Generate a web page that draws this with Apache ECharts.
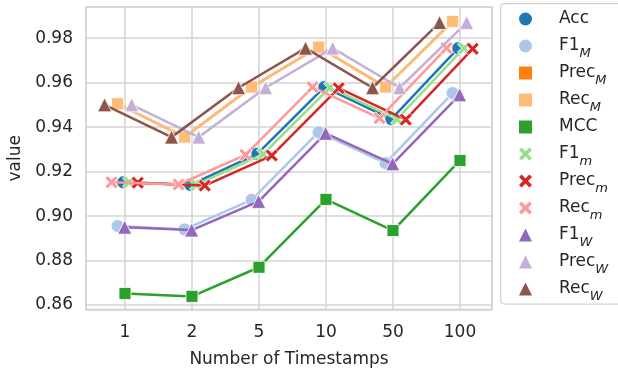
<!DOCTYPE html>
<html>
<head>
<meta charset="utf-8">
<script src="https://cdn.jsdelivr.net/npm/echarts@6/dist/echarts.min.js"></script>
<style>html,body{margin:0;padding:0;background:#fff;}#c{width:618px;height:370px;}</style>
</head>
<body>
<div id="c"></div>
<script>
// ---- data ----
const categories = ['1', '2', '5', '10', '50', '100'];
const seriesNames = ['Acc', 'F1_M', 'Prec_M', 'Rec_M', 'MCC', 'F1_m', 'Prec_m', 'Rec_m', 'F1_W', 'Prec_W', 'Rec_W'];
const accValues    = [0.9152, 0.9140, 0.9280, 0.9580, 0.9436, 0.9755];
const f1MacroValues   = [0.8955, 0.8940, 0.9073, 0.9377, 0.9238, 0.9553];
const precMacroValues = [0.9505, 0.9355, 0.9580, 0.9760, 0.9580, 0.9875];
const recMacroValues  = [0.9505, 0.9355, 0.9580, 0.9760, 0.9580, 0.9875];
const mccValues    = [0.8652, 0.8639, 0.8770, 0.9075, 0.8935, 0.9250];
const f1MicroValues   = [0.9152, 0.9140, 0.9278, 0.9578, 0.9436, 0.9755];
const precMicroValues = [0.9150, 0.9137, 0.9272, 0.9575, 0.9434, 0.9752];
const recMicroValues  = [0.9152, 0.9142, 0.9275, 0.9580, 0.9440, 0.9755];
const f1WeightedValues   = [0.8950, 0.8937, 0.9066, 0.9372, 0.9235, 0.9545];
const precWeightedValues = [0.9500, 0.9355, 0.9577, 0.9755, 0.9577, 0.9870];
const recWeightedValues  = [0.9500, 0.9355, 0.9577, 0.9755, 0.9577, 0.9870];
const yTickLabels = ['0.86', '0.88', '0.90', '0.92', '0.94', '0.96', '0.98'];

// ---- style (not data) ----
const allValues = [accValues, f1MacroValues, precMacroValues, recMacroValues, mccValues,
  f1MicroValues, precMicroValues, recMicroValues, f1WeightedValues, precWeightedValues, recWeightedValues];
const colors = ['#1f77b4', '#aec7e8', '#ff7f0e', '#ffbb78', '#2ca02c', '#98df8a', '#d62728', '#ff9896', '#9467bd', '#c5b0d5', '#8c564b'];
const X_PATH = 'path://M0,2 L2,0 L5,3 L8,0 L10,2 L7,5 L10,8 L8,10 L5,7 L2,10 L0,8 L3,5 Z';
const symbols = ['circle', 'circle', 'rect', 'rect', 'rect', X_PATH, X_PATH, X_PATH, 'triangle', 'triangle', 'triangle'];
const dodge = [-0.025, -0.11, -0.11, -0.11, 0, 0.06, 0.19, -0.2, -0.005, 0.1, -0.305];
const symSize = [13, 13, 12, 12, 12, 13, 13, 13, 14, 14, 14];

const txt = '#262626';
const FONT = 'DejaVu Sans';
const ROW = 28;

const series = seriesNames.map((n, i) => ({
  name: n,
  type: 'line',
  data: allValues[i].map((v, j) => [j + dodge[i], v]),
  symbol: symbols[i],
  symbolSize: symSize[i],
  lineStyle: { color: colors[i], width: 2.5 },
  itemStyle: { color: colors[i], borderColor: '#ffffff', borderWidth: 0.8 },
  emphasis: { disabled: true },
  animation: false,
  z: 2 + i * 0.01
}));

const chart = echarts.init(document.getElementById('c'), null, { renderer: 'canvas' });
chart.setOption({
  backgroundColor: '#ffffff',
  animation: false,
  textStyle: { fontFamily: FONT },
  grid: { left: 86, top: 7, width: 406, height: 302.5, show: true, borderColor: '#d3d3d3', borderWidth: 1.5, containLabel: false, outerBoundsMode: 'none' },
  xAxis: {
    type: 'value', min: -0.582, max: 5.478, splitNumber: 6, minInterval: 1, maxInterval: 1,
    name: 'Number of Timestamps', nameLocation: 'middle', nameGap: 42,
    nameTextStyle: { color: txt, fontSize: 17, fontFamily: FONT },
    axisLine: { show: false }, axisTick: { show: false },
    axisLabel: {
      color: txt, fontSize: 17, fontFamily: FONT, margin: 15,
      formatter: v => {
        const r = Math.round(v);
        return (Math.abs(v - r) < 1e-6 && r >= 0 && r < categories.length) ? categories[r] : '';
      }
    },
    splitLine: { show: true, lineStyle: { color: '#d3d3d3', width: 1.5 } }
  },
  yAxis: {
    type: 'value', min: 0.858, max: 0.994, splitNumber: 7, minInterval: 0.02, maxInterval: 0.02,
    name: 'value', nameLocation: 'middle', nameGap: 58,
    nameTextStyle: { color: txt, fontSize: 17, fontFamily: FONT },
    axisLine: { show: false }, axisTick: { show: false },
    axisLabel: {
      color: txt, fontSize: 17, fontFamily: FONT, margin: 13,
      formatter: v => {
        const k = Math.round((v - 0.86) / 0.02);
        return (Math.abs(v - (0.86 + k * 0.02)) < 1e-6 && k >= 0 && k < yTickLabels.length) ? yTickLabels[k] : '';
      }
    },
    splitLine: { show: true, lineStyle: { color: '#d3d3d3', width: 1.5 } }
  },
  graphic: [{
    type: 'rect', left: 500, top: 3, z: 0,
    shape: { width: 140, height: 300.5, r: 4 },
    style: { fill: '#ffffff', stroke: '#d3d3d3', lineWidth: 1.2 }
  }],
  legend: {
    orient: 'vertical', left: 519, top: 5,
    padding: 0,
    itemWidth: 13, itemHeight: 13, itemGap: 27 - ROW,
    selectedMode: false,
    data: seriesNames.map((n, i) => ({ name: n, icon: symbols[i], itemStyle: { color: colors[i], borderWidth: 0 } })),
    formatter: name => {
      const p = name.split('_');
      return p.length > 1 ? '{sp|}{m|' + p[0] + '}{sub|' + p[1] + '}' : '{sp|}{m|' + p[0] + '}';
    },
    textStyle: {
      color: txt, fontSize: 17, fontFamily: FONT, lineHeight: ROW,
      rich: {
        sp: { width: 22, lineHeight: ROW },
        m: { color: txt, fontSize: 17, fontFamily: FONT, lineHeight: ROW, verticalAlign: 'middle' },
        sub: { color: txt, fontSize: 13, fontStyle: 'italic', fontFamily: FONT, lineHeight: ROW, verticalAlign: 'bottom' }
      }
    }
  },
  series: series
});
</script>
</body>
</html>
